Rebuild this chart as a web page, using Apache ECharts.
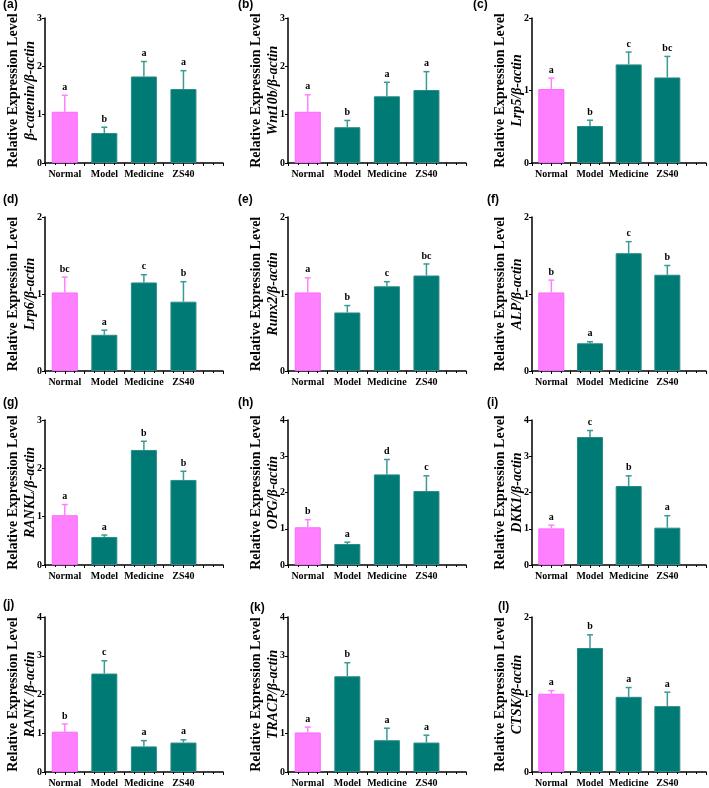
<!DOCTYPE html>
<html>
<head>
<meta charset="utf-8">
<script src="https://cdn.jsdelivr.net/npm/echarts@6/dist/echarts.min.js"></script>
<style>
  html, body { margin: 0; padding: 0; background: #fff; }
  #main { width: 709px; height: 788px; }
</style>
</head>
<body>
<div id="main"></div>
<script>
// groups on the x axis
const groups = ["Normal", "Model", "Medicine", "ZS40"];
// panel tags and gene names (a) .. (l)
const panelTags = ["(a)", "(b)", "(c)", "(d)", "(e)", "(f)", "(g)", "(h)", "(i)", "(j)", "(k)", "(l)"];
const genes = ["β-catenin", "Wnt10b", "Lrp5", "Lrp6", "Runx2", "ALP", "RANKL", "OPG", "DKK1", "RANK ", "TRACP", "CTSK"];
// y axis max per panel
const yMax = [3, 3, 2, 2, 2, 2, 3, 4, 4, 4, 4, 2];

// mean relative expression, one row per panel
const meanValues = [
  [1.06, 0.62, 1.79, 1.53],
  [1.06, 0.74, 1.38, 1.51],
  [1.02, 0.51, 1.36, 1.18],
  [1.02, 0.47, 1.15, 0.90],
  [1.02, 0.76, 1.10, 1.24],
  [1.02, 0.36, 1.53, 1.25],
  [1.03, 0.58, 2.38, 1.76],
  [1.04, 0.58, 2.50, 2.04],
  [1.01, 3.53, 2.18, 1.03],
  [1.04, 2.54, 0.66, 0.76],
  [1.02, 2.47, 0.82, 0.76],
  [1.01, 1.60, 0.97, 0.85]
];
// error (SD) for upper error bars
const sdValues = [
  [0.34, 0.12, 0.31, 0.38],
  [0.35, 0.14, 0.29, 0.38],
  [0.15, 0.08, 0.17, 0.29],
  [0.20, 0.06, 0.10, 0.26],
  [0.19, 0.09, 0.06, 0.15],
  [0.16, 0.02, 0.15, 0.12],
  [0.22, 0.04, 0.18, 0.18],
  [0.21, 0.05, 0.41, 0.42],
  [0.09, 0.18, 0.28, 0.33],
  [0.20, 0.33, 0.15, 0.07],
  [0.14, 0.35, 0.31, 0.19],
  [0.04, 0.17, 0.12, 0.18]
];
// significance letters
const sigLetters = [
  ["a", "b", "a", "a"],
  ["a", "b", "a", "a"],
  ["a", "b", "c", "bc"],
  ["bc", "a", "c", "b"],
  ["a", "b", "c", "bc"],
  ["b", "a", "c", "b"],
  ["a", "a", "b", "b"],
  ["b", "a", "d", "c"],
  ["a", "c", "b", "a"],
  ["b", "c", "a", "a"],
  ["a", "b", "a", "a"],
  ["a", "b", "a", "a"]
];

const pink = "#ff80ff";
const teal = "#007a74";
const pinkErr = "#ff80ff";
const tealErr = "#3a9a95";
const serif = "Liberation Serif";

// layout
const colLeft = [45, 288, 532];
const colWidth = [178, 178, 175];
const rowTop = [18, 217, 420, 617];
const rowHeight = [145, 154, 145, 156];
const tagPos = [
  [3, 5], [238, 5], [473, 5],
  [3, 200], [238, 200], [487, 200],
  [3, 403], [238, 403], [487, 403],
  [3, 605], [250, 608], [498, 607]
];

const chart = echarts.init(document.getElementById("main"));

let grids = [];
let xAxes = [];
let yAxes = [];
let series = [];
let graphics = [];

for (let i = 0; i < 12; i++) {
  const r = Math.floor(i / 3);
  const c = i % 3;
  grids.push({
    left: colLeft[c],
    top: rowTop[r],
    width: colWidth[c],
    height: rowHeight[r],
    containLabel: false
  });
  xAxes.push({
    gridIndex: i,
    type: "value",
    min: -0.5,
    max: 4,
    interval: 0.5,
    axisLine: { show: true, onZero: false, lineStyle: { color: "#000", width: 1.5 } },
    axisTick: { show: true, length: 3, lineStyle: { color: "#000", width: 1 } },
    minorTick: { show: true, splitNumber: 2, length: 2, lineStyle: { color: "#000" } },
    splitLine: { show: false },
    axisLabel: {
      margin: 6,
      hideOverlap: false,
      showMinLabel: true,
      showMaxLabel: true,
      fontFamily: serif,
      fontWeight: "bold",
      fontSize: 10,
      color: "#000",
      formatter: function (v) {
        return Number.isInteger(v) && v >= 0 && v <= 3 ? groups[v] : "";
      }
    }
  });
  yAxes.push({
    gridIndex: i,
    type: "value",
    min: 0,
    max: yMax[i],
    interval: 1,
    axisLine: { show: true, onZero: false, lineStyle: { color: "#000", width: 1.5 } },
    axisTick: { show: true, length: 3, lineStyle: { color: "#000", width: 1 } },
    splitLine: { show: false },
    axisLabel: {
      margin: 3,
      fontFamily: serif,
      fontWeight: "bold",
      fontSize: 10,
      color: "#000"
    },
    name: "{t|Relative Expression Level}\n{g|" + genes[i] + "/β-actin}",
    nameLocation: "middle",
    nameRotate: 90,
    nameGap: 6,
    nameMoveOverlap: false,
    nameTextStyle: {
      rich: {
        t: { fontFamily: serif, fontWeight: "bold", fontSize: 14, color: "#000", lineHeight: 17 },
        g: { fontFamily: serif, fontWeight: "bold", fontStyle: "italic", fontSize: 14, color: "#000", lineHeight: 17 }
      }
    }
  });

  series.push({
    type: "bar",
    xAxisIndex: i,
    yAxisIndex: i,
    barWidth: 26,
    silent: true,
    data: meanValues[i].map((v, k) => ({
      value: [k, v],
      itemStyle: {
        color: k === 0 ? pink : teal,
        borderColor: k === 0 ? "#ff66ff" : "#2a8a85",
        borderWidth: 1
      }
    }))
  });

  const letters = sigLetters[i];
  series.push({
    type: "custom",
    xAxisIndex: i,
    yAxisIndex: i,
    silent: true,
    z: 5,
    data: meanValues[i].map((v, k) => [k, v, sdValues[i][k]]),
    renderItem: function (params, api) {
      const x = api.value(0);
      const m = api.value(1);
      const s = api.value(2);
      const base = api.coord([x, m]);
      const top = api.coord([x, m + s]);
      const col = params.dataIndex === 0 ? pinkErr : tealErr;
      return {
        type: "group",
        children: [
          {
            type: "line",
            shape: { x1: base[0], y1: base[1], x2: top[0], y2: top[1] },
            style: { stroke: col, lineWidth: 1.5 }
          },
          {
            type: "line",
            shape: { x1: top[0] - 3, y1: top[1], x2: top[0] + 3, y2: top[1] },
            style: { stroke: col, lineWidth: 1.5 }
          },
          {
            type: "text",
            x: top[0],
            y: top[1] - 3,
            style: {
              text: letters[params.dataIndex],
              align: "center",
              verticalAlign: "bottom",
              fontFamily: serif,
              fontWeight: "bold",
              fontSize: 10,
              fill: "#000"
            }
          }
        ]
      };
    }
  });

  graphics.push({
    type: "text",
    left: tagPos[i][0],
    top: tagPos[i][1] - 6,
    style: {
      text: panelTags[i],
      fontFamily: "Liberation Sans",
      fontWeight: "bold",
      fontSize: 12,
      fill: "#000"
    }
  });
}

chart.setOption({
  animation: false,
  backgroundColor: "#fff",
  grid: grids,
  xAxis: xAxes,
  yAxis: yAxes,
  series: series,
  graphic: graphics
});
</script>
</body>
</html>
